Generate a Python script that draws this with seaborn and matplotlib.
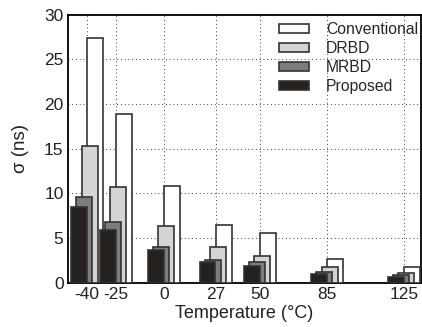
import numpy as np
import pandas as pd
import matplotlib
matplotlib.use("Agg")
import matplotlib.pyplot as plt
import seaborn as sns
from matplotlib.patches import Patch

temperatures = [-40, -25, 0, 27, 50, 85, 125]
conventional = [27.4, 18.9, 10.85, 6.42, 5.57, 2.65, 1.72]
drbd = [15.3, 10.75, 6.38, 3.96, 3.03, 1.72, 1.09]
mrbd = [9.55, 6.76, 4.03, 2.54, 2.28, 1.16, 0.86]
proposed = [8.44, 5.9, 3.66, 2.28, 1.83, 0.97, 0.67]
series_names = ["Conventional", "DRBD", "MRBD", "Proposed"]
yticks = [0, 5, 10, 15, 20, 25, 30]

sns.set_style("white")
plt.rcParams['font.family'] = ['Liberation Sans', 'DejaVu Sans']
plt.rcParams['font.size'] = 11

W, H = 422, 327
L, R, T, B = 67.7, 421.0, 14.7, 282.7
fig = plt.figure(figsize=(W / 100, H / 100), dpi=100)
ax = fig.add_axes([L / W, 1 - B / H, (R - L) / W, (B - T) / H])

series = [conventional, drbd, mrbd, proposed]
colors = ["#ffffff", "#d4d4d4", "#7c7c7c", "#25211e"]
offsets = [4.2, 1.4, -1.4, -4.2]
bar_w = 8.3
min_gap = 15.0

for i, (vals, col, off) in enumerate(zip(series, colors, offsets)):
    df = pd.DataFrame({"x": np.array(temperatures, float) + off, "y": vals})
    sns.barplot(data=df, x="x", y="y", native_scale=True, width=bar_w / min_gap,
                color=col, edgecolor="#333333", linewidth=1.2, saturation=1,
                errorbar=None, ax=ax, zorder=3 + i)

ax.set_xlim(-50.0, 134.0)
ax.set_ylim(0, 30)
ax.set_xticks(temperatures)
ax.set_xticklabels([str(t) for t in temperatures])
ax.set_yticks(yticks)
ax.set_yticklabels([str(t) for t in yticks])
ax.grid(True, color="black", linestyle=(0, (1, 3.5)), linewidth=0.6, zorder=0)
ax.set_axisbelow(True)
for s in ax.spines.values():
    s.set_visible(True)
    s.set_color("black")
    s.set_linewidth(1.3)
ax.tick_params(axis="both", direction="in", length=2, width=0.6, labelsize=12.5,
               colors="#222222", pad=3)
ax.set_xlabel("Temperature (°C)", fontsize=13, labelpad=2, color="#222222")
ax.set_ylabel("σ (ns)", fontsize=13.5, labelpad=11, color="#222222")

handles = [Patch(facecolor=c, edgecolor="#333333", linewidth=1.2) for c in colors]
leg = ax.legend(handles, series_names, loc="upper right", frameon=False,
                handlelength=1.9, handleheight=0.5, handletextpad=1.1,
                labelspacing=0.25, fontsize=11.3, borderaxespad=0.15,
                bbox_to_anchor=(1.016, 1.005))
leg.set_zorder(10)

fig.savefig("out.png", dpi=100)
